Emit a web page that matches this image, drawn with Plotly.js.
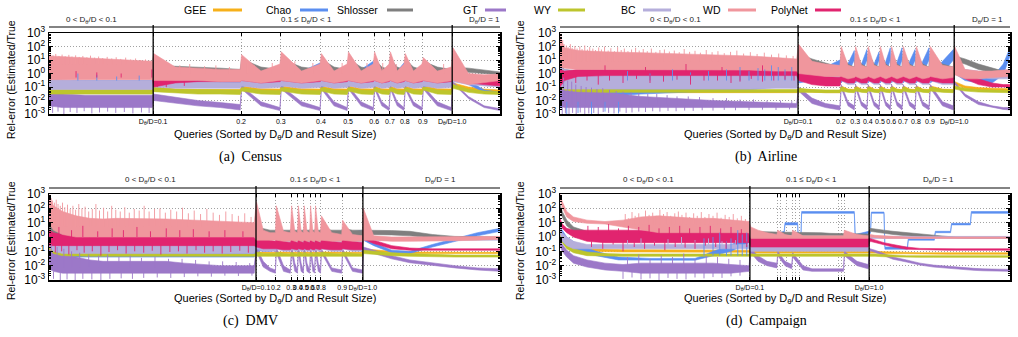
<!DOCTYPE html>
<html>
<head>
<meta charset="utf-8">
<script src="https://cdn.plot.ly/plotly-3.0.1.min.js"></script>
<style>
html, body { margin: 0; padding: 0; background: #fff; }
#chart { width: 1018px; height: 337px; }
</style>
</head>
<body>
<div id="chart"></div>
<script>
// Relative error of distinct-value estimators per query.
// Queries are ranked (0..1000) by D_theta/D, then by result size.
// Each estimator is drawn as the band between its lower and upper envelope,
// plus the outlier queries that stick out of the band (stroke from a level
// inside the band out to the outlier's error).

// ---------------- Census ----------------
const censusQ = [0,30,80,130,180,229, 232,280,330,380,424, 427,470,512, 515,560,601, 604,632,661, 664,692,719, 722,738,754, 757,772,787, 790,808,827, 830,861,892, 896,930,965,1000];
const censusGEEHi = [0.055,0.055,0.055,0.055,0.055,0.055, 0.09,0.07,0.065,0.065,0.065, 0.12,0.075,0.07, 0.12,0.075,0.07, 0.12,0.075,0.07, 0.12,0.075,0.07, 0.12,0.075,0.07, 0.12,0.075,0.07, 0.12,0.075,0.07, 0.14,0.075,0.07, 0.2,0.1,0.07,0.06];
const censusGEELo = [0.035,0.035,0.035,0.035,0.035,0.035, 0.05,0.045,0.04,0.04,0.04, 0.07,0.045,0.04, 0.07,0.045,0.04, 0.07,0.045,0.04, 0.07,0.045,0.04, 0.07,0.045,0.04, 0.07,0.045,0.04, 0.07,0.045,0.04, 0.08,0.045,0.04, 0.12,0.06,0.045,0.04];
const censusChaoHi = [0.3,0.3,0.3,0.3,0.3,0.3, 0.3,0.4,0.5,0.6,0.7, 0.3,1,3, 0.3,1.5,6, 0.3,0.8,2, 0.3,2,8, 0.3,1,3, 0.3,1.5,6, 0.3,1.2,4, 0.3,0.8,2, 1,0.3,0.06,0.04];
const censusChaoLo = [0.1,0.1,0.1,0.1,0.1,0.1, 0.12,0.15,0.15,0.2,0.2, 0.1,0.3,0.8, 0.1,0.4,1.5, 0.1,0.2,0.5, 0.1,0.5,2, 0.1,0.3,0.8, 0.1,0.4,1.5, 0.1,0.3,1, 0.1,0.2,0.5, 0.5,0.15,0.04,0.03];
const censusShlosserHi = [2,2,2,2,2,2, 4,3.5,3,2.5,2, 12,3,2, 12,3,2, 12,3,2, 12,3,2, 12,3,2, 12,3,2, 12,3,2, 8,3,2, 3,2.5,1.8,1.3];
const censusShlosserLo = [0.5,0.5,0.5,0.5,0.5,0.5, 1.5,1.3,1.2,1.1,1, 3,1.2,1, 3,1.2,1, 3,1.2,1, 3,1.2,1, 3,1.2,1, 3,1.2,1, 3,1.2,1, 3,1.2,1, 1.5,1.3,1,0.8];
const censusGTHi = [0.05,0.03,0.025,0.025,0.025,0.025, 0.03,0.018,0.01,0.007,0.005, 0.12,0.008,0.003, 0.12,0.008,0.003, 0.12,0.008,0.003, 0.12,0.008,0.003, 0.12,0.008,0.003, 0.12,0.008,0.003, 0.12,0.008,0.003, 0.12,0.008,0.003, 0.25,0.02,0.004,0.0025];
const censusGTLo = [0.004,0.003,0.003,0.003,0.003,0.003, 0.01,0.006,0.004,0.003,0.002, 0.07,0.004,0.0018, 0.07,0.004,0.0018, 0.07,0.004,0.0018, 0.07,0.004,0.0018, 0.07,0.004,0.0018, 0.07,0.004,0.0018, 0.07,0.004,0.0018, 0.07,0.004,0.0018, 0.18,0.014,0.003,0.0018];
const censusWYHi = [0.065,0.065,0.065,0.065,0.065,0.065, 0.1,0.07,0.065,0.065,0.06, 0.09,0.06,0.055, 0.09,0.06,0.055, 0.09,0.06,0.055, 0.09,0.06,0.055, 0.09,0.06,0.055, 0.09,0.06,0.055, 0.09,0.06,0.055, 0.1,0.06,0.055, 0.15,0.07,0.05,0.045];
const censusWYLo = [0.03,0.03,0.03,0.03,0.03,0.03, 0.045,0.035,0.03,0.03,0.028, 0.05,0.03,0.028, 0.05,0.03,0.028, 0.05,0.03,0.028, 0.05,0.03,0.028, 0.05,0.03,0.028, 0.05,0.03,0.028, 0.05,0.03,0.028, 0.06,0.03,0.028, 0.08,0.04,0.03,0.028];
const censusBCHi = [0.5,0.35,0.3,0.3,0.3,0.3, 0.5,0.3,0.25,0.25,0.22, 0.5,0.22,0.25, 0.5,0.22,0.25, 0.5,0.22,0.25, 0.5,0.22,0.25, 0.5,0.22,0.25, 0.5,0.22,0.25, 0.5,0.22,0.25, 0.5,0.22,0.25, 0.5,0.3,0.25,0.22];
const censusBCLo = [0.065,0.065,0.065,0.065,0.065,0.065, 0.1,0.08,0.08,0.08,0.08, 0.12,0.08,0.09, 0.12,0.08,0.09, 0.12,0.08,0.09, 0.12,0.08,0.09, 0.12,0.08,0.09, 0.12,0.08,0.09, 0.12,0.08,0.09, 0.12,0.08,0.09, 0.25,0.15,0.12,0.1];
const censusPolyNetHi = [1,1,1,1,1,1, 0.5,0.3,0.3,0.3,0.3, 1,0.5,0.5, 1,0.5,0.5, 1,0.5,0.5, 1,0.5,0.5, 1,0.5,0.5, 1,0.5,0.5, 1,0.5,0.5, 1,0.5,0.5, 1,0.5,0.4,0.3];
const censusPolyNetLo = [0.45,0.45,0.45,0.45,0.45,0.45, 0.1,0.2,0.25,0.25,0.25, 0.3,0.2,0.25, 0.3,0.2,0.25, 0.3,0.2,0.25, 0.3,0.2,0.25, 0.3,0.2,0.25, 0.3,0.2,0.25, 0.3,0.2,0.25, 0.3,0.2,0.25, 0.4,0.2,0.15,0.12];
const censusWDHi = [20,18,15,12,10,8, 30,3,2.5,2,2, 25,1.5,5, 40,1.5,5, 30,1.5,5, 40,1.5,5, 40,1.5,5, 40,1.5,5, 30,1.5,5, 15,1.5,3, 80,1,0.8,0.9];
const censusWDLo = [0.35,0.35,0.35,0.35,0.35,0.35, 0.3,0.3,0.3,0.25,0.25, 0.3,0.2,0.3, 0.3,0.2,0.3, 0.3,0.2,0.3, 0.3,0.2,0.3, 0.3,0.2,0.3, 0.3,0.2,0.3, 0.3,0.2,0.3, 0.3,0.2,0.3, 0.3,0.15,0.2,0.3];
// outlier queries
const censusWDOutQ = [3,9,15,22,29,36,44,51,59,67,75,84,92,101,110,119,129,139,149,159,170,181,192,203,214,224];
const censusWDOut = [30,22,28,20,25,19,24,18,22,17,20,16,21,15,18,14,17,13,16,12,15,11,13,10,11,9];
const censusWDOut2Q = [245,262,290,312,345,370,400,440,455,495,530,545,585,620,650,680,705,740,770,800,845,875];
const censusWDOut2 = [8,5,4,5,3.5,4,3,6,4,6,5,8,6,5,6,5,6,6,5,6,4,5];
const censusGTOutQ = [8,20,33,47,62,78,95,112,130,148,167,186,205,222];
const censusGTOut = [0.0012,0.0015,0.001,0.0014,0.0012,0.0016,0.0011,0.0013,0.0015,0.0012,0.0014,0.0011,0.0013,0.0012];
const censusChaoOutQ = [64,106,150,200];
const censusChaoOut = [1,0.8,0.6,0.7];
const censusPolyNetOutQ = [60,106,160,228];
const censusPolyNetOut = [1.5,1.2,1,2];
const censusPolyNetOut2Q = [240,260,300];
const censusPolyNetOut2 = [0.1,0.1,0.12];
const censusTickQ = [231,426,514,603,663,721,756,789,829,894];
const censusTickText = ['D<sub>θ</sub>/D=0.1','0.2','0.3','0.4','0.5','0.6','0.7','0.8','0.9','D<sub>θ</sub>/D=1.0'];
const censusBounds = [231,894];
const censusRegionQ = [95,572,965];

// ---------------- Airline ----------------
const airlineQ = [0,10,40,100,180,260,340,420,480,526, 530,560,590,622, 625,640,654, 657,670,682, 685,698,709, 712,724,734, 737,749,760, 763,777,789, 792,806,820, 823,850,874, 877,900,930,960,985,1000];
const airlineGEEHi = [0.25,0.12,0.08,0.06,0.055,0.055,0.055,0.055,0.055,0.055, 0.07,0.06,0.055,0.055, 0.12,0.07,0.065, 0.12,0.07,0.065, 0.12,0.07,0.065, 0.12,0.07,0.065, 0.12,0.07,0.065, 0.12,0.07,0.065, 0.12,0.07,0.065, 0.12,0.07,0.065, 0.25,0.12,0.09,0.08,0.075,0.075];
const airlineGEELo = [0.07,0.05,0.04,0.038,0.038,0.038,0.038,0.038,0.038,0.038, 0.045,0.04,0.038,0.038, 0.06,0.045,0.042, 0.06,0.045,0.042, 0.06,0.045,0.042, 0.06,0.045,0.042, 0.06,0.045,0.042, 0.06,0.045,0.042, 0.06,0.045,0.042, 0.06,0.045,0.042, 0.15,0.08,0.06,0.055,0.05,0.05];
const airlineChaoHi = [1,0.5,0.5,0.5,0.5,0.5,0.6,0.8,2,3, 0.5,1,3,10, 0.5,5,50, 0.5,5,60, 0.5,5,40, 0.5,8,80, 0.5,8,80, 0.5,8,60, 0.5,8,80, 0.5,8,60, 3,1,0.4,0.5,5,80];
const airlineChaoLo = [0.003,0.005,0.01,0.02,0.03,0.04,0.05,0.06,0.1,0.2, 0.2,0.3,0.8,3, 0.2,1,10, 0.2,1,10, 0.2,1,10, 0.2,1,10, 0.2,1,10, 0.2,1,10, 0.2,1,10, 0.2,1,10, 1,0.3,0.2,0.2,0.8,20];
const airlineShlosserHi = [5,2,1.5,1.2,1.2,1.2,1.2,1.2,1.2,1.2, 30,12,6,3, 30,5,3, 30,5,3, 30,5,3, 30,5,3, 30,5,3, 30,5,3, 30,5,3, 30,5,3, 20,12,5,2.5,1.5,1.2];
const airlineShlosserLo = [0.5,0.5,0.6,0.7,0.8,0.8,0.8,0.8,0.8,0.8, 5,4,2,1.5, 5,2,1.5, 5,2,1.5, 5,2,1.5, 5,2,1.5, 5,2,1.5, 5,2,1.5, 5,2,1.5, 5,2,1.5, 8,5,2,1.2,0.9,0.8];
const airlineGTHi = [0.3,0.15,0.08,0.04,0.02,0.014,0.01,0.008,0.007,0.006, 0.1,0.015,0.006,0.004, 0.15,0.008,0.004, 0.15,0.008,0.004, 0.15,0.008,0.004, 0.15,0.008,0.004, 0.15,0.008,0.004, 0.15,0.008,0.004, 0.15,0.008,0.004, 0.15,0.008,0.004, 0.25,0.03,0.008,0.004,0.003,0.003];
const airlineGTLo = [0.004,0.003,0.003,0.003,0.003,0.003,0.003,0.003,0.003,0.003, 0.05,0.006,0.003,0.002, 0.08,0.004,0.002, 0.08,0.004,0.002, 0.08,0.004,0.002, 0.08,0.004,0.002, 0.08,0.004,0.002, 0.08,0.004,0.002, 0.08,0.004,0.002, 0.08,0.004,0.002, 0.17,0.02,0.005,0.003,0.0022,0.002];
const airlineWYHi = [0.3,0.15,0.09,0.07,0.065,0.065,0.065,0.065,0.065,0.065, 0.08,0.065,0.06,0.06, 0.1,0.065,0.06, 0.1,0.065,0.06, 0.1,0.065,0.06, 0.1,0.065,0.06, 0.1,0.065,0.06, 0.1,0.065,0.06, 0.1,0.065,0.06, 0.1,0.065,0.06, 0.12,0.08,0.065,0.06,0.055,0.055];
const airlineWYLo = [0.08,0.06,0.045,0.04,0.04,0.04,0.04,0.04,0.04,0.04, 0.045,0.04,0.038,0.038, 0.05,0.04,0.038, 0.05,0.04,0.038, 0.05,0.04,0.038, 0.05,0.04,0.038, 0.05,0.04,0.038, 0.05,0.04,0.038, 0.05,0.04,0.038, 0.05,0.04,0.038, 0.07,0.05,0.042,0.04,0.038,0.038];
const airlineBCHi = [3,2,1.5,1.2,1,1,0.9,0.9,0.9,1, 2,1.5,1,0.8, 2,1,0.8, 2,1,0.8, 2,1,0.8, 2,1,0.8, 2,1,0.8, 2,1,0.8, 2,1,0.8, 2,1,0.8, 3,2,1.5,1,0.9,0.9];
const airlineBCLo = [0.1,0.07,0.07,0.07,0.07,0.07,0.07,0.07,0.08,0.08, 0.3,0.2,0.15,0.15, 0.3,0.15,0.15, 0.3,0.15,0.15, 0.3,0.15,0.15, 0.3,0.15,0.15, 0.3,0.15,0.15, 0.3,0.15,0.15, 0.3,0.15,0.15, 0.3,0.15,0.15, 1,0.7,0.5,0.4,0.4,0.4];
const airlinePolyNetHi = [2,1.5,2,2,2,2,2,2,2,2, 1.5,1,0.6,0.5, 1.5,0.8,0.6, 1.5,0.8,0.6, 1.5,0.8,0.6, 1.5,0.8,0.6, 1.5,0.8,0.6, 1.5,0.8,0.6, 1.5,0.8,0.6, 1.5,0.8,0.6, 4,1,0.4,0.2,0.15,0.15];
const airlinePolyNetLo = [0.1,0.3,0.6,0.7,0.7,0.7,0.7,0.7,0.7,0.7, 0.3,0.15,0.12,0.12, 0.3,0.2,0.2, 0.3,0.2,0.2, 0.3,0.2,0.2, 0.3,0.2,0.2, 0.3,0.2,0.2, 0.3,0.2,0.2, 0.3,0.2,0.2, 0.3,0.2,0.2, 1.5,0.4,0.15,0.1,0.1,0.1];
const airlineWDHi = [500,80,50,40,35,30,25,20,15,12, 150,8,5,4, 100,4,3, 100,4,3, 100,4,3, 100,4,3, 100,4,3, 100,4,3, 100,4,3, 100,4,3, 100,2,1.5,1.5,1.8,2];
const airlineWDLo = [3,2.5,2,2,2,2,2,1.8,1.5,1.5, 1,0.8,0.6,0.6, 0.6,0.4,0.5, 0.6,0.4,0.5, 0.6,0.4,0.5, 0.6,0.4,0.5, 0.6,0.4,0.5, 0.6,0.4,0.5, 0.6,0.4,0.5, 0.6,0.4,0.5, 0.8,0.4,0.4,0.5,0.6,0.6];
const airlineWDOutQ = [2,6,9,14,18,23,27,33,38,44,49,55,61,66,73,79,86,92,99,107,113,121,128,136,143,151,159,168,176,185,194,203,213,222,232,243,254,265,276,288,300,312,325,338,351,365,379,393,408,423,438,454,470,486,503,518];
const airlineWDOut = [900,300,150,120,90,150,80,110,70,100,65,120,60,90,70,55,85,60,100,50,75,45,90,55,70,45,60,80,50,65,45,70,40,55,60,42,50,38,65,40,48,35,55,38,45,32,40,50,30,38,28,35,25,30,22,20];
const airlineGTOutQ = [5,12,20,28,36,45,55,64,75,85,96,108,120,133,147,160,175,190,206,222,240,258,277,296,316,340,365,390,420,450,480,510];
const airlineGTOut = [0.001,0.0011,0.001,0.0012,0.001,0.0013,0.001,0.0011,0.0012,0.001,0.0014,0.0012,0.0011,0.0015,0.0012,0.0013,0.0015,0.0014,0.0016,0.0015,0.0017,0.0016,0.0018,0.0017,0.0019,0.0018,0.002,0.0019,0.002,0.0021,0.002,0.0022];
const airlineGTOut2Q = [8,17,26,35,47,58,70,82,95,110,125,140,158,175,195,215,238,260,285,310,340,370,400,430,460,490,515];
const airlineGTOut2 = [0.5,0.3,0.25,0.15,0.12,0.1,0.09,0.07,0.08,0.06,0.05,0.045,0.04,0.035,0.03,0.03,0.025,0.02,0.02,0.018,0.015,0.015,0.012,0.012,0.01,0.01,0.009];
const airlineChaoOutQ = [150,200,250,290,330,370,400,420,440,455,470,485,500,515];
const airlineChaoOut = [1.5,1,2,1.2,1.5,2,3,1.5,2.5,2,4,3,2,3];
const airlineChaoOut2Q = [15,40,70,100,130];
const airlineChaoOut2 = [0.001,0.0012,0.001,0.0015,0.0011];
const airlinePolyNetOutQ = [35,60,85,110,140,170,200,230,260,290,320,350,380,400,425,450,475,500,520];
const airlinePolyNetOut = [0.2,0.3,0.15,0.3,0.2,0.4,0.2,0.25,0.35,0.15,0.3,0.3,0.2,0.25,0.4,0.25,0.3,0.35,0.3];
const airlinePolyNetOut2Q = [100,190,280,360,450];
const airlinePolyNetOut2 = [4,3,5,3,4];
const airlineTickQ = [529,624,656,684,711,736,762,791,822,876];
const airlineTickText = ['D<sub>θ</sub>/D=0.1','0.2','0.3','0.4','0.5','0.6','0.7','0.8','0.9','D<sub>θ</sub>/D=1.0'];
const airlineBounds = [529,876];
const airlineRegionQ = [256,700,951];

// ---------------- DMV ----------------
const dmvQ = [0,10,30,60,90,120,150,180,220,260,300,340,380,420,455, 460,475,490,502, 504,520,535, 538,545,551, 553,559,564, 566,572,578, 580,585,589, 591,597,602, 604,627,649, 651,673,695, 697,720,760,800,850,900,950,1000];
const dmvGEEHi = [0.4,0.15,0.1,0.08,0.07,0.065,0.065,0.065,0.065,0.065,0.065,0.065,0.065,0.065,0.065, 0.09,0.085,0.085,0.085, 0.09,0.085,0.085, 0.09,0.085,0.085, 0.09,0.085,0.085, 0.09,0.085,0.085, 0.09,0.085,0.085, 0.09,0.085,0.085, 0.09,0.085,0.085, 0.09,0.085,0.085, 0.15,0.13,0.1,0.09,0.085,0.085,0.085,0.085];
const dmvGEELo = [0.12,0.06,0.05,0.045,0.045,0.045,0.045,0.045,0.045,0.045,0.045,0.045,0.045,0.045,0.045, 0.07,0.07,0.07,0.07, 0.07,0.07,0.07, 0.07,0.07,0.07, 0.07,0.07,0.07, 0.07,0.07,0.07, 0.07,0.07,0.07, 0.07,0.07,0.07, 0.07,0.07,0.07, 0.07,0.07,0.07, 0.1,0.09,0.075,0.07,0.07,0.07,0.07,0.07];
const dmvChaoHi = [3,1,0.5,0.4,0.4,0.4,0.4,0.4,0.4,0.4,0.4,0.4,0.4,0.4,0.4, 0.3,0.2,0.2,0.25, 0.25,0.3,0.35, 0.35,0.4,0.45, 0.45,0.5,0.55, 0.55,0.6,0.65, 0.65,0.7,0.75, 0.75,0.8,0.9, 0.9,1.3,1.8, 1.8,2.3,3, 0.9,0.4,0.12,0.1,0.3,0.8,2,4];
const dmvChaoLo = [0.5,0.1,0.05,0.04,0.04,0.04,0.04,0.04,0.04,0.04,0.04,0.04,0.04,0.04,0.04, 0.12,0.1,0.1,0.12, 0.15,0.18,0.2, 0.2,0.24,0.27, 0.27,0.3,0.33, 0.33,0.36,0.4, 0.4,0.42,0.45, 0.45,0.5,0.55, 0.55,0.8,1.1, 1.1,1.4,1.8, 0.6,0.25,0.08,0.07,0.2,0.5,1.2,2.5];
const dmvShlosserHi = [10,5,3,2,1.5,1.5,1.5,1.5,1.5,1.5,1.5,1.5,1.5,1.5,1.5, 5,4,3,3, 4,3,3, 4,3,3, 4,3,3, 4,3,3, 4,3,3, 4,3,3, 4,3,3, 4,3,3, 3,3,2.8,2.5,1.5,1.1,1,1];
const dmvShlosserLo = [3,1.5,1,0.8,0.7,0.7,0.7,0.7,0.7,0.7,0.7,0.7,0.7,0.7,0.7, 1.5,1.5,1.2,1.2, 1.2,1.2,1.2, 1.2,1.2,1.2, 1.2,1.2,1.2, 1.2,1.2,1.2, 1.2,1.2,1.2, 1.2,1.2,1.2, 1.2,1.2,1.2, 1.2,1.2,1.2, 1.5,1.5,1.4,1.2,0.9,0.8,0.8,0.8];
const dmvGTHi = [0.2,0.15,0.08,0.04,0.025,0.02,0.02,0.02,0.02,0.02,0.015,0.012,0.01,0.01,0.01, 0.2,0.02,0.007,0.005, 0.2,0.01,0.005, 0.3,0.015,0.005, 0.3,0.015,0.005, 0.3,0.015,0.005, 0.3,0.015,0.005, 0.3,0.015,0.005, 0.15,0.007,0.005, 0.15,0.007,0.005, 0.2,0.12,0.05,0.025,0.015,0.01,0.007,0.006];
const dmvGTLo = [0.006,0.004,0.003,0.003,0.003,0.003,0.003,0.003,0.003,0.003,0.003,0.003,0.003,0.003,0.003, 0.1,0.008,0.004,0.003, 0.08,0.004,0.003, 0.08,0.004,0.003, 0.08,0.004,0.003, 0.08,0.004,0.003, 0.08,0.004,0.003, 0.08,0.004,0.003, 0.08,0.004,0.003, 0.08,0.004,0.003, 0.12,0.07,0.03,0.016,0.01,0.007,0.005,0.004];
const dmvWYHi = [0.5,0.2,0.12,0.1,0.08,0.07,0.07,0.07,0.07,0.065,0.065,0.065,0.065,0.065,0.065, 0.09,0.07,0.07,0.07, 0.09,0.07,0.065, 0.09,0.07,0.065, 0.09,0.07,0.065, 0.09,0.07,0.065, 0.09,0.07,0.065, 0.09,0.07,0.065, 0.09,0.07,0.065, 0.09,0.07,0.065, 0.12,0.1,0.08,0.07,0.06,0.055,0.055,0.055];
const dmvWYLo = [0.15,0.07,0.05,0.045,0.045,0.045,0.045,0.045,0.045,0.045,0.045,0.045,0.045,0.045,0.045, 0.05,0.045,0.045,0.045, 0.05,0.045,0.045, 0.05,0.045,0.045, 0.05,0.045,0.045, 0.05,0.045,0.045, 0.05,0.045,0.045, 0.05,0.045,0.045, 0.05,0.045,0.045, 0.05,0.045,0.045, 0.07,0.06,0.05,0.045,0.04,0.04,0.04,0.04];
const dmvBCHi = [2,1,0.6,0.5,0.4,0.4,0.4,0.4,0.4,0.4,0.4,0.4,0.4,0.4,0.4, 1,0.6,0.5,0.5, 1,0.5,0.5, 1,0.5,0.5, 1,0.5,0.5, 1,0.5,0.5, 1,0.5,0.5, 1,0.5,0.5, 1,0.5,0.5, 1,0.5,0.5, 0.9,0.8,0.8,0.8,0.8,0.8,0.8,0.8];
const dmvBCLo = [0.2,0.1,0.07,0.07,0.07,0.07,0.07,0.07,0.07,0.07,0.07,0.07,0.07,0.07,0.07, 0.15,0.1,0.1,0.1, 0.15,0.1,0.1, 0.15,0.1,0.1, 0.15,0.1,0.1, 0.15,0.1,0.1, 0.15,0.1,0.1, 0.15,0.1,0.1, 0.15,0.1,0.1, 0.15,0.1,0.1, 0.6,0.6,0.6,0.6,0.6,0.6,0.6,0.6];
const dmvPolyNetHi = [3,2,1.5,1.5,1.5,1.5,1.5,1.5,1.5,1.5,1.5,1.5,1.5,1.5,1.5, 2,1,0.6,0.5, 1,0.5,0.4, 1,0.5,0.4, 1,0.5,0.4, 1,0.5,0.4, 1,0.5,0.4, 1,0.5,0.4, 1,0.5,0.4, 1,0.5,0.4, 1.2,0.6,0.25,0.17,0.15,0.15,0.15,0.15];
const dmvPolyNetLo = [0.25,0.25,0.25,0.25,0.25,0.25,0.25,0.25,0.25,0.25,0.25,0.25,0.25,0.25,0.25, 0.2,0.15,0.15,0.15, 0.15,0.13,0.13, 0.15,0.13,0.13, 0.15,0.13,0.13, 0.15,0.13,0.13, 0.15,0.13,0.13, 0.15,0.13,0.13, 0.15,0.13,0.13, 0.15,0.13,0.13, 0.7,0.35,0.15,0.12,0.12,0.12,0.12,0.12];
const dmvWDHi = [500,150,60,30,20,18,20,20,18,18,16,14,12,10,10, 300,3,2,2, 150,2.5,2, 150,2.5,2, 150,2.5,2, 150,2.5,2, 150,2.5,2, 150,2.5,2, 30,2,1.5, 15,1.5,1.2, 100,1.2,1,1,1,1,1,1.1];
const dmvWDLo = [10,3,1.5,1,1,1,1,1,1,1,1,1,1,1,1, 0.6,0.6,0.6,0.6, 0.6,0.5,0.5, 0.6,0.5,0.5, 0.6,0.5,0.5, 0.6,0.5,0.5, 0.6,0.5,0.5, 0.6,0.5,0.5, 0.6,0.5,0.5, 0.6,0.5,0.5, 0.6,0.6,0.5,0.5,0.5,0.55,0.6,0.7];
const dmvWDOutQ = [2,5,8,12,16,20,25,30,35,41,47,53,59,66,73,80,88,96,104,112,121,130,139,148,158,168,178,189,200,211,222,234,246,258,270,283,296,309,322,336,350,364,378,392,406,420,434,448];
const dmvWDOut = [900,500,350,250,400,200,150,250,120,180,90,150,80,200,100,130,60,90,200,70,110,60,150,80,60,120,50,90,70,150,60,90,100,50,80,60,110,45,70,40,90,50,35,60,40,30,45,25];
const dmvGTOutQ = [10,25,40,58,75,95,115,135,160,185,210,240,270,300,330,360,390,420,450];
const dmvGTOut = [0.0012,0.001,0.0011,0.001,0.0012,0.0011,0.001,0.0012,0.0013,0.0012,0.0014,0.0015,0.0014,0.0016,0.0018,0.0017,0.002,0.0019,0.002];
const dmvGTOut2Q = [5,18,33,50,68,88,110,130,155,180,205,235,265,295,325,355,385,415,445];
const dmvGTOut2 = [0.3,0.2,0.15,0.1,0.08,0.06,0.05,0.06,0.04,0.05,0.035,0.04,0.03,0.03,0.025,0.02,0.02,0.018,0.015];
const dmvPolyNetOutQ = [14,28,44,62,78,96,115,133,152,171,190,210,229,248,268,287,306,326,345,364,384,403,423,442];
const dmvPolyNetOut = [0.08,0.1,0.06,0.12,0.08,0.1,0.05,0.09,0.12,0.07,0.1,0.08,0.11,0.06,0.09,0.1,0.07,0.12,0.08,0.1,0.07,0.09,0.11,0.08];
const dmvPolyNetOut2Q = [22,50,75,108,140,165,195,225,260,290,320,355,390,430];
const dmvPolyNetOut2 = [5,3,6,2.5,4,3,5,2.5,4,3,3.5,2.5,3,2.5];
const dmvTickQ = [459,503,537,552,565,579,590,603,650,696];
const dmvTickText = ['D<sub>θ</sub>/D=0.1','0.2','0.3','0.4','0.5','0.6','0.7','0.8','0.9','D<sub>θ</sub>/D=1.0'];
const dmvBounds = [459,696];
const dmvRegionQ = [224,590,867];

// ---------------- Campaign ----------------
const campaignQ = [0,5,15,30,60,100,140,180,220,260,300,340,380,420, 424,440,460,482,484,500,515,517,540,560,580,600,630,632,660,685, 689,700,720,740,770,800,830,860,880,900,920,940,960,1000];
const campaignGEEHi = [3,1.2,0.5,0.25,0.16,0.14,0.13,0.13,0.13,0.13,0.13,0.13,0.13,0.12, 0.12,0.11,0.1,0.1,0.1,0.1,0.1,0.1,0.1,0.1,0.1,0.1,0.1,0.1,0.1,0.1, 0.11,0.1,0.095,0.09,0.085,0.08,0.08,0.08,0.08,0.08,0.08,0.08,0.08,0.08];
const campaignGEELo = [1.5,0.6,0.25,0.13,0.1,0.09,0.09,0.09,0.09,0.09,0.09,0.09,0.09,0.085, 0.075,0.075,0.075,0.075,0.075,0.075,0.075,0.075,0.075,0.075,0.075,0.075,0.075,0.075,0.075,0.075, 0.08,0.075,0.07,0.068,0.065,0.063,0.063,0.063,0.063,0.063,0.063,0.063,0.063,0.063];
const campaignChaoQ = [0,15,40,80,130,200,300,380,420, 440,470,498,500,528,530,535,537,654,656,686, 690,692,720,722,772,774,832,834,868,870,912,914,1000];
const campaignChaoHi = [5,1,0.3,0.1,0.04,0.032,0.032,0.3,0.8, 1,1.3,2.5,10,10,0.5,0.5,60,60,1.5,2.5, 2.5,55,55,0.2,0.2,0.8,0.8,2.5,2.5,9,9,60,60];
const campaignChaoLo = [2,0.4,0.1,0.05,0.025,0.024,0.024,0.1,0.4, 0.6,0.8,1.5,7,7,0.3,0.3,45,45,0.9,1.8, 1.8,45,45,0.14,0.14,0.6,0.6,2,2,7,7,45,45];
const campaignShlosserHi = [200,60,15,5,2.5,2,2,2,2,2,1.8,1.8,1.7,1.7, 2.5,2.5,2.3,2.2,2.2,2.2,2.1,2.1,2,2,2,1.8,1.8,1.8,1.6,1.6, 4,3.5,3,2.5,2,1.6,1.3,1.1,1,1,1,1,1,1];
const campaignShlosserLo = [100,25,6,2.5,1.5,1.3,1.3,1.3,1.3,1.3,1.2,1.2,1.2,1.2, 1.5,1.5,1.4,1.4,1.4,1.4,1.3,1.3,1.3,1.2,1.2,1.2,1.2,1.2,1.1,1.1, 2.5,2.2,1.8,1.5,1.2,1.1,0.9,0.85,0.8,0.8,0.8,0.8,0.8,0.8];
const campaignGTHi = [0.5,0.3,0.12,0.05,0.025,0.015,0.012,0.015,0.015,0.015,0.015,0.015,0.012,0.01, 0.15,0.05,0.02,0.015,0.1,0.02,0.012,0.08,0.01,0.006,0.006,0.006,0.006,0.1,0.02,0.012, 0.15,0.12,0.07,0.04,0.025,0.015,0.011,0.009,0.008,0.007,0.0065,0.006,0.006,0.0055];
const campaignGTLo = [0.25,0.1,0.04,0.015,0.008,0.005,0.004,0.003,0.003,0.003,0.003,0.003,0.003,0.004, 0.08,0.02,0.01,0.007,0.05,0.01,0.006,0.04,0.005,0.004,0.004,0.004,0.004,0.05,0.01,0.006, 0.11,0.085,0.05,0.028,0.018,0.011,0.008,0.0065,0.0058,0.005,0.0047,0.0044,0.0044,0.004];
const campaignWYHi = [2,0.8,0.3,0.15,0.09,0.07,0.065,0.065,0.065,0.065,0.065,0.065,0.065,0.065, 0.065,0.065,0.065,0.065,0.065,0.065,0.065,0.065,0.065,0.065,0.065,0.065,0.065,0.065,0.065,0.065, 0.07,0.065,0.06,0.055,0.05,0.05,0.05,0.05,0.05,0.05,0.05,0.05,0.05,0.05];
const campaignWYLo = [1,0.4,0.15,0.08,0.05,0.045,0.045,0.045,0.045,0.045,0.045,0.045,0.045,0.045, 0.045,0.045,0.045,0.045,0.045,0.045,0.045,0.045,0.045,0.045,0.045,0.045,0.045,0.045,0.045,0.045, 0.05,0.045,0.042,0.04,0.038,0.038,0.038,0.038,0.038,0.038,0.038,0.038,0.038,0.038];
const campaignBCHi = [5,2,1,0.5,0.3,0.3,0.3,0.3,0.3,0.3,0.3,0.3,0.3,0.3, 0.3,0.3,0.3,0.3,0.3,0.3,0.3,0.3,0.3,0.3,0.3,0.3,0.3,0.3,0.3,0.3, 1.1,1.1,1.1,1.1,1.1,1.1,1.1,1.1,1.1,1.1,1.1,1.1,1.1,1.1];
const campaignBCLo = [2,0.5,0.25,0.15,0.15,0.15,0.15,0.15,0.15,0.15,0.15,0.15,0.15,0.15, 0.1,0.1,0.1,0.1,0.1,0.1,0.1,0.1,0.1,0.1,0.1,0.1,0.1,0.1,0.1,0.1, 0.8,0.8,0.8,0.8,0.8,0.8,0.8,0.8,0.8,0.8,0.8,0.8,0.8,0.8];
const campaignPolyNetHi = [20,8,4,3,3,3,3,3,3,3,2.5,2.5,2.5,2, 2,1.5,1.2,1,1,1,1,1,1,1,1,1,1,1,1,1, 0.8,0.6,0.4,0.3,0.2,0.16,0.15,0.15,0.15,0.15,0.15,0.15,0.15,0.15];
const campaignPolyNetLo = [10,4,2,1,0.5,0.4,0.4,0.4,0.4,0.4,0.4,0.4,0.4,0.4, 0.2,0.2,0.2,0.2,0.2,0.2,0.2,0.2,0.2,0.2,0.2,0.2,0.2,0.2,0.2,0.2, 0.5,0.4,0.3,0.2,0.14,0.13,0.12,0.12,0.12,0.12,0.12,0.12,0.12,0.12];
const campaignWDHi = [1000,300,60,25,15,12,15,25,30,25,20,20,15,12, 5,3,2,1.5,3,1.5,1.2,3,1.2,1.2,1.2,1.2,1.2,3,1.5,1.2, 1.5,1.3,1.2,1.1,1,1,1,1,1,1,1,1,1,1];
const campaignWDLo = [500,120,25,12,9,8,5,3,2,2,2,2,2,2, 0.8,0.8,0.8,0.8,0.8,0.8,0.8,0.8,0.8,0.8,0.8,0.8,0.8,0.8,0.8,0.8, 1,0.9,0.8,0.8,0.8,0.8,0.8,0.8,0.8,0.8,0.8,0.8,0.8,0.8];
const campaignWDOutQ = [145,152,160,167,175,183,190,198,206,214,222,230,238,246,255,263,271,280,288,297,305,314,322,331,340,349,358,367,376,385,394,403,412];
const campaignWDOut = [40,20,55,30,45,25,70,35,50,30,80,40,55,30,45,60,35,50,25,45,30,55,25,40,30,50,22,35,25,40,20,30,18];
const campaignBCOutQ = [150,180,210,240,270,300,330,360,390];
const campaignBCOut = [0.6,0.8,0.5,0.7,1,0.6,0.8,0.5,0.6];
const campaignGTOutQ = [140,160,180,200,220,240,260,280,300,320,340,360,380,400];
const campaignGTOut = [0.0012,0.0015,0.0011,0.0013,0.001,0.0014,0.0012,0.0011,0.0015,0.0013,0.0016,0.0014,0.0018,0.002];
const campaignGTOut2Q = [150,175,200,225,250,275,300,325,350,375,400];
const campaignGTOut2 = [0.04,0.06,0.03,0.05,0.04,0.07,0.03,0.05,0.04,0.03,0.025];
const campaignChaoOutQ = [320,340,355,370,380,395,405,415];
const campaignChaoOut = [0.8,1,2,0.5,0.8,3,1.5,2];
const campaignPolyNetOutQ = [62,85,108,130,152,175,198,220,243,266,288,311,334,357,380,403];
const campaignPolyNetOut = [6,5,8,4,6,5,7,4,5,6,4,5,6,4,5,3.5];
const campaignPolyNetOut2Q = [70,95,118,140,165,188,210,233,256,278,300,323,346,369,392,415];
const campaignPolyNetOut2 = [0.2,0.15,0.3,0.1,0.2,0.15,0.25,0.12,0.2,0.18,0.15,0.25,0.2,0.15,0.3,0.2];
const campaignTickQ = [422,483,490,503,516,523,533,618,625,633,687];
const campaignTickText = ['D<sub>θ</sub>/D=0.1','','','','','','','','','','D<sub>θ</sub>/D=1.0'];
const campaignBounds = [422,687];
const campaignRegionQ = [196,558,840];

// ---------------- shared ----------------
const regionLabels = ['0 &lt; D<sub>θ</sub>/D &lt; 0.1', '0.1 ≤ D<sub>θ</sub>/D &lt; 1', 'D<sub>θ</sub>/D = 1'];
const legendNames = ['GEE','Chao','Shlosser','GT','WY','BC','WD','PolyNet'];
const COLORS = {GEE:'#f6b01a', Chao:'#5b8ef0', Shlosser:'#7f7f7f', GT:'#9c78c8', WY:'#bdc52c', BC:'#b5aedb', WD:'#f0969d', PolyNet:'#e1246f'};
const DRAW_ORDER = ['GEE','Chao','Shlosser','GT','WY','BC','PolyNet','WD'];

const W = 1018, H = 337;
const px = v => v / W;
const py = v => 1 - v / H;
const SANS = 'Liberation Sans, Arial, Helvetica, sans-serif';
const SERIF = 'Liberation Serif, Times New Roman, serif';

// outlier sets: [estimator, queries, outlier error, level inside the band the stroke starts from]
const panels = [
  {q: censusQ, qFor: {},
   bands: {GEE:[censusGEEHi,censusGEELo], Chao:[censusChaoHi,censusChaoLo], Shlosser:[censusShlosserHi,censusShlosserLo], GT:[censusGTHi,censusGTLo], WY:[censusWYHi,censusWYLo], BC:[censusBCHi,censusBCLo], PolyNet:[censusPolyNetHi,censusPolyNetLo], WD:[censusWDHi,censusWDLo]},
   outliers: [['WD',censusWDOutQ,censusWDOut,5], ['WD',censusWDOut2Q,censusWDOut2,1], ['GT',censusGTOutQ,censusGTOut,0.004],
              ['Chao',censusChaoOutQ,censusChaoOut,0.3], ['PolyNet',censusPolyNetOutQ,censusPolyNetOut,0.5], ['PolyNet',censusPolyNetOut2Q,censusPolyNetOut2,0.25]],
   tickQ: censusTickQ, tickText: censusTickText, bounds: censusBounds, regionQ: censusRegionQ,
   xpx:[49,500], ypx:[33,114], topLine:27, caption:'(a)  Census', capX:250, capY:157, titleY:135, ytitleX:11, ytitleY:80},
  {q: airlineQ, qFor: {},
   bands: {GEE:[airlineGEEHi,airlineGEELo], Chao:[airlineChaoHi,airlineChaoLo], Shlosser:[airlineShlosserHi,airlineShlosserLo], GT:[airlineGTHi,airlineGTLo], WY:[airlineWYHi,airlineWYLo], BC:[airlineBCHi,airlineBCLo], PolyNet:[airlinePolyNetHi,airlinePolyNetLo], WD:[airlineWDHi,airlineWDLo]},
   outliers: [['WD',airlineWDOutQ,airlineWDOut,8], ['GT',airlineGTOutQ,airlineGTOut,0.004], ['GT',airlineGTOut2Q,airlineGTOut2,0.005],
              ['Chao',airlineChaoOutQ,airlineChaoOut,0.3], ['Chao',airlineChaoOut2Q,airlineChaoOut2,0.008],
              ['PolyNet',airlinePolyNetOutQ,airlinePolyNetOut,0.8], ['PolyNet',airlinePolyNetOut2Q,airlinePolyNetOut2,1.5]],
   tickQ: airlineTickQ, tickText: airlineTickText, bounds: airlineBounds, regionQ: airlineRegionQ,
   xpx:[560,1010], ypx:[33,114], topLine:27, caption:'(b)  Airline', capX:766, capY:157, titleY:135, ytitleX:520, ytitleY:80},
  {q: dmvQ, qFor: {},
   bands: {GEE:[dmvGEEHi,dmvGEELo], Chao:[dmvChaoHi,dmvChaoLo], Shlosser:[dmvShlosserHi,dmvShlosserLo], GT:[dmvGTHi,dmvGTLo], WY:[dmvWYHi,dmvWYLo], BC:[dmvBCHi,dmvBCLo], PolyNet:[dmvPolyNetHi,dmvPolyNetLo], WD:[dmvWDHi,dmvWDLo]},
   outliers: [['WD',dmvWDOutQ,dmvWDOut,5], ['GT',dmvGTOutQ,dmvGTOut,0.004], ['GT',dmvGTOut2Q,dmvGTOut2,0.008],
              ['PolyNet',dmvPolyNetOutQ,dmvPolyNetOut,0.3], ['PolyNet',dmvPolyNetOut2Q,dmvPolyNetOut2,1]],
   tickQ: dmvTickQ, tickText: dmvTickText, bounds: dmvBounds, regionQ: dmvRegionQ,
   xpx:[49,500], ypx:[194,280], topLine:188, caption:'(c)  DMV', capX:250, capY:321, titleY:299, ytitleX:11, ytitleY:241},
  {q: campaignQ, qFor: {Chao: campaignChaoQ},
   bands: {GEE:[campaignGEEHi,campaignGEELo], Chao:[campaignChaoHi,campaignChaoLo], Shlosser:[campaignShlosserHi,campaignShlosserLo], GT:[campaignGTHi,campaignGTLo], WY:[campaignWYHi,campaignWYLo], BC:[campaignBCHi,campaignBCLo], PolyNet:[campaignPolyNetHi,campaignPolyNetLo], WD:[campaignWDHi,campaignWDLo]},
   outliers: [['WD',campaignWDOutQ,campaignWDOut,8], ['BC',campaignBCOutQ,campaignBCOut,0.2], ['GT',campaignGTOutQ,campaignGTOut,0.004],
              ['GT',campaignGTOut2Q,campaignGTOut2,0.008], ['Chao',campaignChaoOutQ,campaignChaoOut,0.05],
              ['PolyNet',campaignPolyNetOutQ,campaignPolyNetOut,1.5], ['PolyNet',campaignPolyNetOut2Q,campaignPolyNetOut2,0.5]],
   tickQ: campaignTickQ, tickText: campaignTickText, bounds: campaignBounds, regionQ: campaignRegionQ,
   xpx:[560,1010], ypx:[194,280], topLine:188, caption:'(d)  Campaign', capX:766, capY:321, titleY:299, ytitleX:520, ytitleY:241}
];

// log-axis ticks
const decadeVals = [1e-3,1e-2,1e-1,1,1e1,1e2,1e3];
const decadeText = ['10<sup>-3</sup>','10<sup>-2</sup>','10<sup>-1</sup>','10<sup>0</sup>','10<sup>1</sup>','10<sup>2</sup>','10<sup>3</sup>'];
const minorVals = [];
for (let e = -3; e < 3; e++) for (let m = 2; m <= 9; m++) minorVals.push(m * Math.pow(10, e));

const traces = [];
const layout = {
  width: W, height: H, margin: {l:0, r:0, t:0, b:0},
  paper_bgcolor: '#fff', plot_bgcolor: '#fff', showlegend: false,
  font: {family: SANS, color: '#000'},
  shapes: [], annotations: []
};

panels.forEach((p, i) => {
  const n = i === 0 ? '' : String(i + 1);
  DRAW_ORDER.forEach(name => {
    const [hi, lo] = p.bands[name];
    const q = p.qFor[name] || p.q;
    if (hi.length !== q.length || lo.length !== q.length) {
      throw new Error('length mismatch: panel ' + i + ' ' + name + ' ' + q.length + '/' + hi.length + '/' + lo.length);
    }
    const col = COLORS[name];
    traces.push({x: q, y: lo, xaxis: 'x' + n, yaxis: 'y' + n, type: 'scatter', mode: 'lines',
      line: {color: col, width: 0.6}, hoverinfo: 'skip'});
    traces.push({x: q, y: hi, xaxis: 'x' + n, yaxis: 'y' + n, type: 'scatter', mode: 'lines',
      line: {color: col, width: 0.6}, fill: 'tonexty', fillcolor: col, hoverinfo: 'skip'});
  });
  // outlier queries as thin vertical strokes on top of the bands
  p.outliers.forEach(([name, oq, ov, level]) => {
    if (oq.length !== ov.length) throw new Error('outlier length mismatch: panel ' + i + ' ' + name);
    const xs = [], ys = [];
    oq.forEach((v, k) => { xs.push(v, v, null); ys.push(level, ov[k], null); });
    traces.push({x: xs, y: ys, xaxis: 'x' + n, yaxis: 'y' + n, type: 'scatter', mode: 'lines',
      line: {color: COLORS[name], width: 0.9}, connectgaps: false, hoverinfo: 'skip'});
  });

  layout['xaxis' + n] = {
    domain: [px(p.xpx[0]), px(p.xpx[1])], anchor: 'y' + n, range: [0, 1000],
    tickmode: 'array', tickvals: p.tickQ, ticktext: p.tickText,
    ticks: 'inside', ticklen: 3, tickwidth: 1, tickcolor: '#000',
    tickfont: {size: 7, family: SANS, color: '#000'}, tickangle: 0,
    showline: true, linecolor: '#000', linewidth: 1.5, mirror: 'ticks',
    showgrid: true, gridcolor: '#8a8a8a', griddash: '1px,2px', gridwidth: 0.8, zeroline: false
  };
  layout['yaxis' + n] = {
    domain: [py(p.ypx[1]), py(p.ypx[0])], anchor: 'x' + n, type: 'log', range: [-3, 3],
    tickmode: 'array', tickvals: decadeVals, ticktext: decadeText,
    ticks: 'inside', ticklen: 4, tickwidth: 1, tickcolor: '#000',
    tickfont: {size: 12, family: SANS, color: '#000'},
    minor: {tickmode: 'array', tickvals: minorVals, ticks: 'inside', ticklen: 2, tickcolor: '#000', showgrid: false},
    showline: true, linecolor: '#000', linewidth: 1.5, mirror: 'ticks',
    showgrid: true, gridcolor: '#8a8a8a', griddash: '1px,2px', gridwidth: 0.8, zeroline: false
  };

  // range header line above the plot
  layout.shapes.push({type: 'line', xref: 'paper', yref: 'paper',
    x0: px(p.xpx[0]), x1: px(p.xpx[1]), y0: py(p.topLine), y1: py(p.topLine),
    line: {color: '#5a5a5a', width: 1.5}});
  // Dθ/D = 0.1 and 1.0 boundaries
  p.bounds.forEach(b => {
    layout.shapes.push({type: 'line', xref: 'x' + n, yref: 'paper',
      x0: b, x1: b, y0: py(p.ypx[1]), y1: py(p.topLine - 2),
      line: {color: '#000', width: 1.3}});
  });
  p.regionQ.forEach((rq, k) => {
    layout.annotations.push({xref: 'x' + n, yref: 'paper', x: rq, y: py(p.topLine - 0.5),
      xanchor: 'center', yanchor: 'bottom', showarrow: false, text: regionLabels[k],
      font: {size: 8, family: SANS, color: '#222'}});
  });
  // axis titles and caption
  layout.annotations.push({xref: 'paper', yref: 'paper', x: px((p.xpx[0] + p.xpx[1]) / 2), y: py(p.titleY),
    xanchor: 'center', yanchor: 'middle', showarrow: false,
    text: 'Queries (Sorted by D<sub>θ</sub>/D and Result Size)', font: {size: 11, family: SANS}});
  layout.annotations.push({xref: 'paper', yref: 'paper', x: px(p.ytitleX), y: py(p.ytitleY),
    xanchor: 'center', yanchor: 'middle', showarrow: false, textangle: -90,
    text: 'Rel-error (Estimated/True', font: {size: 10.5, family: SANS}});
  layout.annotations.push({xref: 'paper', yref: 'paper', x: px(p.capX), y: py(p.capY),
    xanchor: 'center', yanchor: 'middle', showarrow: false,
    text: p.caption, font: {size: 14, family: SERIF}});
});

// key row across the top: label followed by a line sample
const keyTextEnd = [208, 293, 380, 480, 553, 638, 723, 810];
const keyLine = [[213,242],[300,328],[387,413],[485,506],[558,585],[643,671],[728,756],[815,841]];
legendNames.forEach((name, k) => {
  layout.annotations.push({xref: 'paper', yref: 'paper', x: px(keyTextEnd[k]), y: py(10),
    xanchor: 'right', yanchor: 'middle', showarrow: false, text: name,
    font: {size: 10.5, family: SANS}});
  layout.shapes.push({type: 'line', xref: 'paper', yref: 'paper',
    x0: px(keyLine[k][0]), x1: px(keyLine[k][1]), y0: py(10), y1: py(10),
    line: {color: COLORS[name], width: 3}});
});

Plotly.newPlot('chart', traces, layout, {staticPlot: true, displayModeBar: false});
</script>
</body>
</html>
